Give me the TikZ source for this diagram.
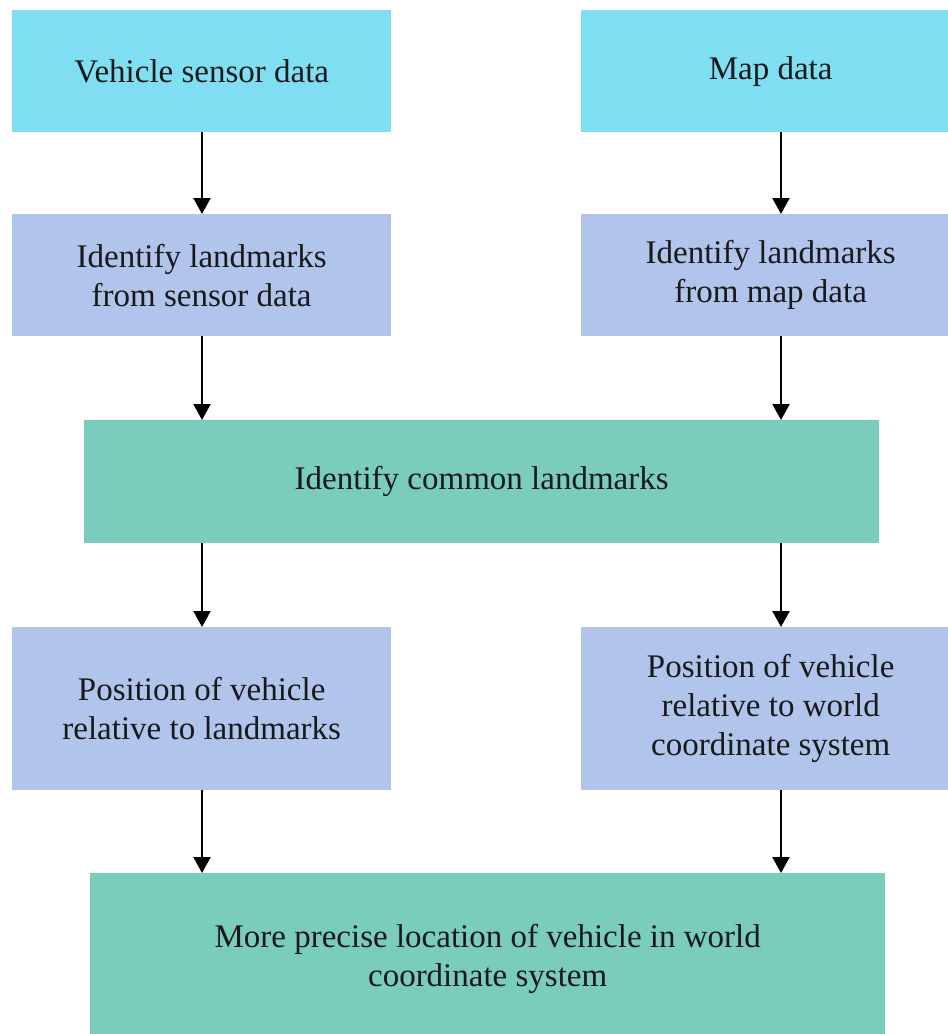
\documentclass[tikz,border=0pt]{standalone}
\usepackage{fontspec}
\setmainfont{Liberation Serif}
\usetikzlibrary{arrows.meta}
\definecolor{sourcecol}{HTML}{80DEF2}
\definecolor{stepcol}{HTML}{B0C4EC}
\definecolor{mergecol}{HTML}{7ACCBD}
\tikzset{
  box/.style={rectangle, inner sep=0pt, align=center, anchor=north west,
    font=\fontsize{33}{39}\selectfont, text=black!90},
  srcbox/.style={box, fill=sourcecol},
  idbox/.style={box, fill=stepcol},
  mergebox/.style={box, fill=mergecol},
  arr/.style={line width=2.2pt, -{Triangle[width=17pt,length=16pt]}},
}
\begin{document}
\begin{tikzpicture}[x=1pt,y=-1pt]
\useasboundingbox (0,0) rectangle (948,1034);
% column positions of the connectors
\coordinate (colL) at (202,0);
\coordinate (colR) at (781,0);

% inputs
\node[srcbox, minimum width=379pt, minimum height=122pt] (vs) at (12,10) {Vehicle sensor data};
\node[srcbox, minimum width=379pt, minimum height=122pt] (md) at (581,10) {Map data};

% landmark extraction
\node[idbox, minimum width=379pt, minimum height=122pt] (ls) at (12,214) {Identify landmarks\\from sensor data};
\node[idbox, minimum width=379pt, minimum height=122pt] (lm) at (581,214) {Identify landmarks\\from map data};

% matching
\node[mergebox, minimum width=795pt, minimum height=123pt] (cl) at (84,420) {Identify common landmarks};

% relative and absolute positions
\node[idbox, minimum width=379pt, minimum height=163pt] (pl) at (12,627) {Position of vehicle\\relative to landmarks};
\node[idbox, minimum width=379pt, minimum height=163pt] (pw) at (581,627) {Position of vehicle\\relative to world\\coordinate system};

% result
\node[mergebox, minimum width=795pt, minimum height=172pt] (res) at (90,873) {More precise location of vehicle in world\\coordinate system};

% connectors
\draw[arr] (vs.south -| colL) -- (ls.north -| colL);
\draw[arr] (md.south -| colR) -- (lm.north -| colR);
\draw[arr] (ls.south -| colL) -- (cl.north -| colL);
\draw[arr] (lm.south -| colR) -- (cl.north -| colR);
\draw[arr] (cl.south -| colL) -- (pl.north -| colL);
\draw[arr] (cl.south -| colR) -- (pw.north -| colR);
\draw[arr] (pl.south -| colL) -- (res.north -| colL);
\draw[arr] (pw.south -| colR) -- (res.north -| colR);
\end{tikzpicture}
\end{document}
